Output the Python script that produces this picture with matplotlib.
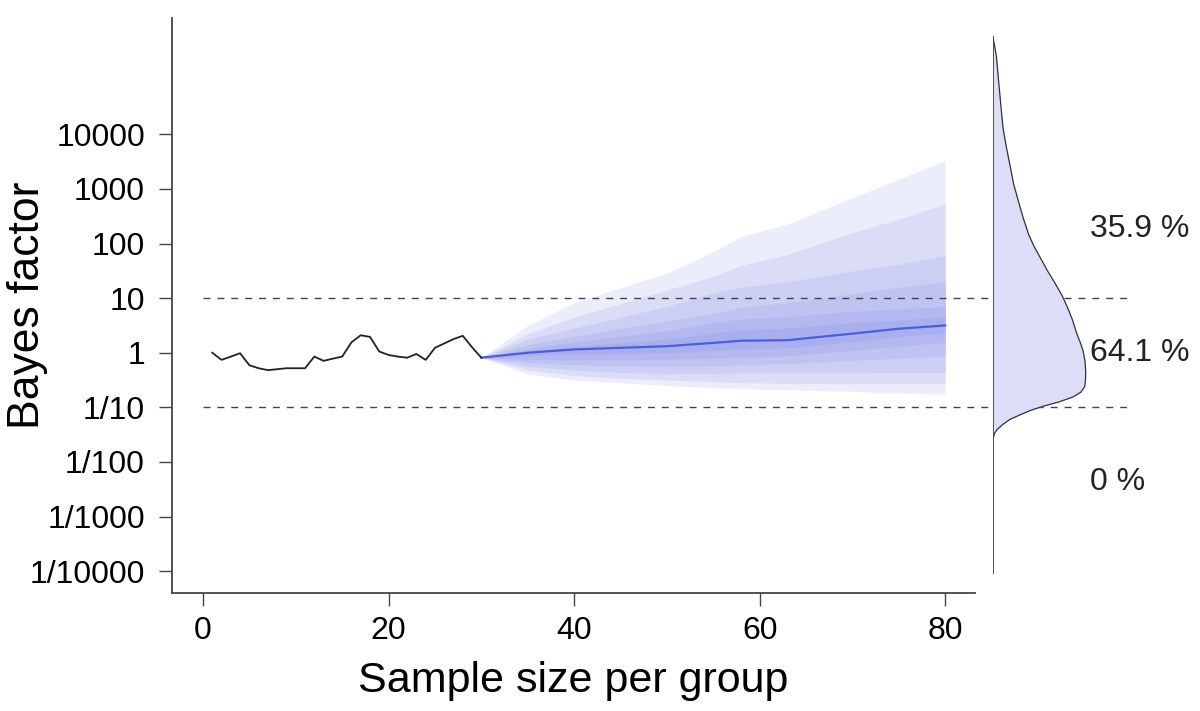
import numpy as np
import matplotlib
matplotlib.use('Agg')
import matplotlib.pyplot as plt

plt.rcParams['font.family'] = ['Liberation Sans', 'DejaVu Sans']

# observed Bayes factors, n = 1..30
n_obs = list(range(1, 31))
bf_obs = [1.0, 0.74, 0.85, 0.98, 0.59, 0.52, 0.48, 0.50, 0.52, 0.52,
          0.52, 0.85, 0.71, 0.78, 0.85, 1.55, 2.09, 1.95, 1.05, 0.91,
          0.85, 0.81, 0.95, 0.74, 1.23, 1.48, 1.78, 2.04, 1.26, 0.81]

# predicted fan (log10 BF), outer bands first
n_pred = [30, 35, 40, 45, 50, 55, 58, 63, 70, 75, 80]
log_median = [-0.09, 0.0, 0.06, 0.09, 0.12, 0.18, 0.22, 0.23, 0.35, 0.44, 0.50]
log_upper = [
    [-0.09, 0.50, 0.92, 1.19, 1.46, 1.85, 2.13, 2.36, 2.84, 3.18, 3.52],
    [-0.09, 0.35, 0.65, 0.90, 1.15, 1.40, 1.60, 1.80, 2.20, 2.45, 2.73],
    [-0.09, 0.25, 0.45, 0.65, 0.85, 1.10, 1.20, 1.30, 1.50, 1.62, 1.78],
    [-0.09, 0.15, 0.30, 0.45, 0.58, 0.72, 0.83, 0.92, 1.08, 1.20, 1.30],
    [-0.09, 0.08, 0.20, 0.30, 0.40, 0.55, 0.62, 0.66, 0.76, 0.80, 0.85],
    [-0.09, 0.04, 0.12, 0.18, 0.25, 0.36, 0.42, 0.45, 0.55, 0.60, 0.66],
]
log_lower = [
    [-0.09, -0.39, -0.50, -0.55, -0.60, -0.64, -0.66, -0.68, -0.71, -0.74, -0.76],
    [-0.09, -0.32, -0.42, -0.47, -0.50, -0.53, -0.55, -0.56, -0.57, -0.57, -0.57],
    [-0.09, -0.25, -0.32, -0.36, -0.38, -0.38, -0.37, -0.37, -0.37, -0.36, -0.36],
    [-0.09, -0.18, -0.22, -0.24, -0.25, -0.24, -0.22, -0.20, -0.14, -0.10, -0.06],
    [-0.09, -0.12, -0.13, -0.13, -0.12, -0.10, -0.08, -0.06, 0.04, 0.12, 0.19],
    [-0.09, -0.05, -0.03, -0.02, 0.00, 0.04, 0.07, 0.09, 0.20, 0.30, 0.36],
]

# density of log10 BF at the end (right panel)
dens_logbf = [5.78, 5.43, 5.0, 4.5, 4.12, 3.8, 3.46, 3.1, 2.80, 2.45, 2.15, 1.95,
              1.75, 1.5, 1.29, 1.05, 0.83, 0.6, 0.37, 0.2, 0.04, -0.15, -0.35,
              -0.5, -0.62, -0.72, -0.81, -0.9, -0.98, -1.06, -1.14, -1.22,
              -1.31, -1.4, -1.47, -1.57]
dens_val = [0, 0.034, 0.055, 0.08, 0.10, 0.13, 0.167, 0.205, 0.25, 0.305, 0.36,
            0.41, 0.47, 0.545, 0.615, 0.69, 0.745, 0.795, 0.834, 0.87, 0.90, 0.92,
            0.927, 0.925, 0.917, 0.88, 0.80, 0.66, 0.50, 0.37, 0.267, 0.17, 0.10,
            0.045, 0.017, 0]

pct_labels = ['35.9 %', '64.1 %', '0 %']
pct_logpos = [2.26, 0.0, -2.37]

ytick_vals = [1e4, 1e3, 1e2, 10, 1, 0.1, 0.01, 1e-3, 1e-4]
ytick_labels = ['10000', '1000', '100', '10', '1', '1/10', '1/100', '1/1000', '1/10000']
xtick_vals = [0, 20, 40, 60, 80]

ylim = (10 ** -4.40, 10 ** 6.13)
axis_col = '#444444'

fig = plt.figure(figsize=(12, 7.11), dpi=100)
ax = fig.add_axes([172 / 1200, 1 - 593 / 711, (975 - 172) / 1200, (593 - 18) / 711])

fan_col = '#5a64dc'
for up, lo in zip(log_upper, log_lower):
    ax.fill_between(n_pred, 10 ** np.array(lo), 10 ** np.array(up),
                    color=fan_col, alpha=0.11, linewidth=0)
ax.plot(n_pred, 10 ** np.array(log_median), color='#4a5ee0', lw=1.6)
ax.plot(n_obs, bf_obs, color='#222222', lw=1.3)

for h in [10, 0.1]:
    ax.plot([0, 99.6], [h, h], color=axis_col, lw=1.0,
            linestyle=(0, (5, 5)), clip_on=False)

ax.set_yscale('log')
ax.set_ylim(*ylim)
ax.set_xlim(-3.34, 83.2)
ax.set_yticks(ytick_vals)
ax.set_yticklabels(ytick_labels)
ax.minorticks_off()
ax.set_xticks(xtick_vals)
ax.tick_params(axis='both', direction='out', length=9.5, width=1.0,
               color=axis_col, labelsize=23)
ax.tick_params(axis='y', pad=10)
ax.tick_params(axis='x', pad=7)
for s in ['top', 'right']:
    ax.spines[s].set_visible(False)
for s in ['left', 'bottom']:
    ax.spines[s].set_color(axis_col)
    ax.spines[s].set_linewidth(1.3)

ax.set_xlabel('Sample size per group', fontsize=31)
ax.set_ylabel('Bayes factor', fontsize=32)
ax.xaxis.set_label_coords(0.5, -0.118)
ax.yaxis.set_label_coords(-0.155, 0.5)

# right density panel
ax2 = fig.add_axes([993 / 1200, 1 - 593 / 711, (1200 - 993) / 1200, (593 - 18) / 711])
ax2.set_yscale('log')
ax2.set_ylim(*ylim)
ax2.set_xlim(0, 2.07)
ax2.axis('off')
dy = 10 ** np.array(dens_logbf)
ax2.fill_betweenx(dy, 0, dens_val, color='#dcdef8', linewidth=0)
ax2.plot(dens_val, dy, color='#333333', lw=0.9)
ax2.plot([0, 0], [10 ** -4.04, 10 ** 5.78], color=axis_col, lw=1.3)
for lab, lp in zip(pct_labels, pct_logpos):
    ax2.text(0.97, 10 ** lp, lab, fontsize=23, ha='left', va='center', color='#222222')

fig.savefig('out.png', dpi=100)
